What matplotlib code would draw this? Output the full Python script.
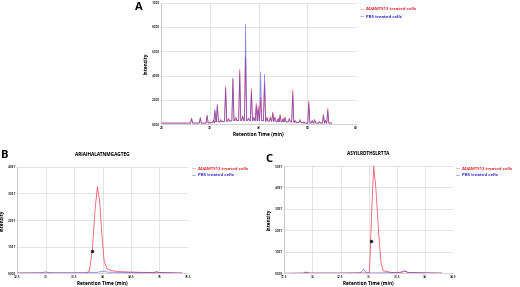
import numpy as np
import matplotlib
matplotlib.use("Agg")
import matplotlib.pyplot as plt

# -----------------------------
# DATA
# -----------------------------
# panel A: peak apex retention times and heights (fraction of axis max)
a_peak_rt = [26.2, 28.0, 29.4, 30.7, 31.0, 31.5, 32.2, 33.2, 33.8, 34.7, 35.3, 36.1, 36.7,
             37.3, 37.9, 38.5, 39.0, 39.5, 39.9, 40.4, 41.2, 41.7, 42.4, 42.9, 43.3, 44.0,
             44.4, 45.0, 45.4, 46.3, 47.0, 47.5, 48.5, 49.3, 50.3, 51.0, 51.5, 52.5, 53.3,
             53.7, 54.2]
a_red = [0.05, 0.055, 0.07, 0.03, 0.11, 0.16, 0.04, 0.31, 0.05, 0.37, 0.06, 0.45, 0.07,
         0.55, 0.05, 0.29, 0.06, 0.17, 0.15, 0.22, 0.34, 0.06, 0.06, 0.10, 0.06, 0.05,
         0.08, 0.05, 0.06, 0.05, 0.28, 0.03, 0.04, 0.02, 0.19, 0.03, 0.04, 0.02, 0.08,
         0.03, 0.13]
a_blue = [0.045, 0.05, 0.075, 0.03, 0.12, 0.16, 0.03, 0.29, 0.04, 0.38, 0.05, 0.42, 0.06,
          0.82, 0.05, 0.26, 0.05, 0.15, 0.12, 0.43, 0.41, 0.05, 0.05, 0.09, 0.05, 0.04,
          0.07, 0.04, 0.05, 0.04, 0.25, 0.03, 0.03, 0.02, 0.17, 0.03, 0.03, 0.02, 0.07,
          0.03, 0.11]
a_base = [0.01, 0.01, 0.01, 0.015, 0.02, 0.02, 0.02, 0.025, 0.025, 0.03, 0.03, 0.03, 0.03,
          0.03, 0.03, 0.03, 0.03, 0.03, 0.03, 0.03, 0.03, 0.025, 0.025, 0.025, 0.025, 0.02,
          0.02, 0.02, 0.02, 0.02, 0.02, 0.015, 0.015, 0.01, 0.01, 0.01, 0.01, 0.01, 0.01,
          0.01, 0.01]
a_start, a_end = 20.0, 55.0

# panel B: ARIAIHALATNMGAGTEG
b_red_rt = [32.5, 33.0, 33.5, 33.72, 33.77, 33.82, 33.87, 33.91, 33.95, 33.99, 34.03, 34.08,
            34.15, 34.3, 34.6, 34.9, 35.2, 35.4]
b_red = [0.01, 0.01, 0.01, 0.01, 0.1, 0.84, 2.4, 3.25, 2.7, 1.4, 0.45, 0.18, 0.1, 0.06,
         0.04, 0.03, 0.02, 0.01]
b_blue_rt = [32.5, 32.9, 33.0, 33.1, 33.5, 33.9, 34.0, 34.1, 34.4, 34.9, 34.95, 35.0, 35.4]
b_blue = [0.01, 0.02, 0.05, 0.02, 0.02, 0.03, 0.08, 0.04, 0.03, 0.03, 0.07, 0.03, 0.01]
b_mark = (33.82, 0.84)

# panel C: ASYILRDTHSLRTTA
c_red_rt = [31.5, 31.85, 31.9, 31.95, 32.5, 32.9, 33.0, 33.015, 33.06, 33.09, 33.13, 33.18,
            33.22, 33.26, 33.4, 33.6, 33.65, 33.7, 34.0, 34.3]
c_red = [0.0, 0.01, 0.05, 0.01, 0.01, 0.02, 0.02, 0.05, 3.3, 5.0, 3.9, 1.8, 0.5, 0.12,
         0.04, 0.05, 0.1, 0.04, 0.02, 0.01]
c_blue_rt = [31.5, 31.85, 31.88, 31.92, 32.5, 32.85, 32.91, 32.97, 33.1, 33.55, 33.63, 33.7,
             34.0, 34.3]
c_blue = [0.0, 0.01, 0.07, 0.01, 0.01, 0.02, 0.18, 0.02, 0.02, 0.03, 0.12, 0.03, 0.02, 0.01]
c_mark = (33.04, 1.5)

a_yticklabels = ["0.00E", "2.00E", "4.00E", "6.00E", "8.00E", "1.00E"]
b_yticklabels = ["0.00E", "1.0E7", "2.0E7", "3.0E7", "4.0E7"]
c_yticklabels = ["0.00E", "1.0E7", "2.0E7", "3.0E7", "4.0E7", "5.0E7"]

RED = "#ee4a5e"
BLUE = "#4b3fd6"
RED_TXT = "#e0202c"
BLUE_TXT = "#2a1fc0"

plt.rcParams['font.family'] = ['Open Sans', 'DejaVu Sans']


def peaks_to_trace(rt, h, base, start, end, hw=0.22):
    xs, ys = [start], [base[0]]
    for r, v, b in zip(rt, h, base):
        xs += [r - hw, r, r + hw]
        ys += [b, v, b]
    xs.append(end)
    ys.append(base[-1])
    return xs, ys


def style_axes(ax, xticks, xlabels, yticks, ylabels):
    ax.set_xticks(xticks)
    ax.set_xticklabels(xlabels)
    ax.set_yticks(yticks)
    ax.set_yticklabels(ylabels)
    ax.tick_params(length=0, labelsize=2.3, pad=1, colors="#333333")
    for lab in ax.get_xticklabels() + ax.get_yticklabels():
        lab.set_fontweight("bold")
    ax.grid(True, color="#d9d9d9", linewidth=0.5)
    ax.set_axisbelow(True)
    for s in ["top", "right"]:
        ax.spines[s].set_visible(False)
    for s in ["left", "bottom"]:
        ax.spines[s].set_color("#bfbfbf")
        ax.spines[s].set_linewidth(0.5)
    ax.set_xlabel("Retention Time (min)", fontsize=3.4, fontweight="bold", labelpad=2)
    ax.set_ylabel("Intensity", fontsize=3.4, fontweight="bold", labelpad=2)


def legend(fig, x, y, dy):
    fig.text(x, y, "—", color=RED, fontsize=3, va="center", fontweight="bold")
    fig.text(x + 0.012, y, "ADAMTS13 treated cells", color=RED_TXT, fontsize=3.1,
             va="center", fontweight="bold")
    fig.text(x, y - dy, "—", color=BLUE, fontsize=3, va="center", fontweight="bold")
    fig.text(x + 0.012, y - dy, "PBS treated cells", color=BLUE_TXT, fontsize=3.1,
             va="center", fontweight="bold")


W, H = 520, 287
fig = plt.figure(figsize=(W / 100, H / 100), dpi=100)


def px_axes(l, t, r, b):
    return fig.add_axes([l / W, 1 - b / H, (r - l) / W, (b - t) / H])


# -----------------------------
# Panel A
# -----------------------------
axA = px_axes(161.4, 2.5, 356, 124.3)
rx, ry = peaks_to_trace(a_peak_rt, a_red, a_base, a_start, a_end)
bx, by = peaks_to_trace(a_peak_rt, a_blue, a_base, a_start, a_end)
axA.plot(rx, ry, color=RED, lw=0.6, alpha=0.9)
axA.plot(bx, by, color=BLUE, lw=0.6, alpha=0.6)
axA.set_xlim(20, 60)
axA.set_ylim(0, 1.0)
style_axes(axA, [20, 30, 40, 50, 60], ["20", "30", "40", "50", "60"],
           np.arange(0, 1.01, 0.2), a_yticklabels)
fig.text(135 / W, 1 - 7 / H, "A", fontsize=8, fontweight="bold", va="center")
legend(fig, 360 / W, 1 - 9 / H, 7.5 / H)

# -----------------------------
# Panel B
# -----------------------------
axB = px_axes(17.3, 166.7, 187.7, 273.3)
axB.plot(b_red_rt, np.array(b_red) * 1e7, color=RED, lw=0.6, alpha=0.9)
axB.plot(b_blue_rt, np.array(b_blue) * 1e7, color=BLUE, lw=0.6, alpha=0.6)
axB.plot(b_mark[0], b_mark[1] * 1e7, marker="D", ms=1.3, color="#222222", ls="none")
axB.set_xlim(32.5, 35.5)
axB.set_ylim(0, 4e7)
xt = [32.5, 33, 33.5, 34, 34.5, 35, 35.5]
style_axes(axB, xt, ["32.5", "33", "33.5", "34", "34.5", "35", "35.5"],
           np.arange(0, 4.01e7, 1e7), b_yticklabels)
axB.set_title("ARIAIHALATNMGAGTEG", fontsize=3.4, fontweight="bold", pad=8)
fig.text(1 / W, 1 - 156 / H, "B", fontsize=8, fontweight="bold", va="center")
legend(fig, 192 / W, 1 - 168.5 / H, 7 / H)

# -----------------------------
# Panel C
# -----------------------------
axC = px_axes(284.3, 166, 453, 273.3)
axC.plot(c_red_rt, np.array(c_red) * 1e7, color=RED, lw=0.6, alpha=0.9)
axC.plot(c_blue_rt, np.array(c_blue) * 1e7, color=BLUE, lw=0.6, alpha=0.6)
axC.plot(c_mark[0], c_mark[1] * 1e7, marker="D", ms=1.3, color="#222222", ls="none")
axC.set_xlim(31.5, 34.5)
axC.set_ylim(0, 5e7)
xt = [31.5, 32, 32.5, 33, 33.5, 34, 34.5]
style_axes(axC, xt, ["31.5", "32", "32.5", "33", "33.5", "34", "34.5"],
           np.arange(0, 5.01e7, 1e7), c_yticklabels)
axC.set_title("ASYILRDTHSLRTTA", fontsize=3.4, fontweight="bold", pad=8)
fig.text(265 / W, 1 - 160 / H, "C", fontsize=8, fontweight="bold", va="center")
legend(fig, 456 / W, 1 - 168.5 / H, 7 / H)

fig.savefig("out.png", dpi=100)
